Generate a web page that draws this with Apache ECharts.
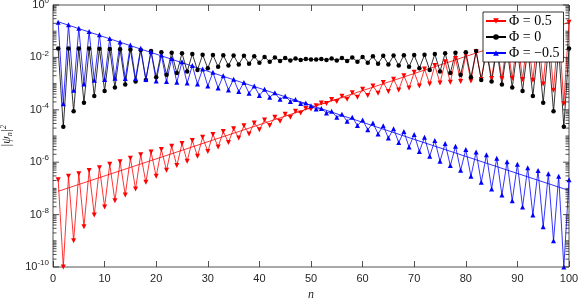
<!DOCTYPE html>
<html><head><meta charset="utf-8">
<script src="https://cdn.jsdelivr.net/npm/echarts@6/dist/echarts.min.js"></script>
<style>html,body{margin:0;padding:0;background:#fff}#c{width:581px;height:302px}</style>
</head><body><div id="c"></div>
<script>
// site index n
const sites = [1,2,3,4,5,6,7,8,9,10,11,12,13,14,15,16,17,18,19,20,21,22,23,24,25,26,27,28,29,30,31,32,33,34,35,36,37,38,39,40,41,42,43,44,45,46,47,48,49,50,51,52,53,54,55,56,57,58,59,60,61,62,63,64,65,66,67,68,69,70,71,72,73,74,75,76,77,78,79,80,81,82,83,84,85,86,87,88,89,90,91,92,93,94,95,96,97,98,99,100];
// log10 |psi_n|^2 values
const redLog = [-6.67,-10.0,-6.54,-9.0,-6.44,-8.46,-6.32,-8.02,-6.21,-7.71,
-6.08,-7.47,-5.98,-7.25,-5.85,-7.02,-5.72,-6.77,-5.61,-6.54,
-5.52,-6.31,-5.39,-6.13,-5.29,-5.96,-5.17,-5.77,-5.05,-5.59,
-4.94,-5.42,-4.83,-5.25,-4.72,-5.08,-4.61,-4.92,-4.50,-4.76,
-4.39,-4.60,-4.28,-4.44,-4.17,-4.28,-4.06,-4.12,-3.95,-3.97,
-3.85,-3.74,-3.76,-3.61,-3.68,-3.48,-3.60,-3.35,-3.52,-3.22,
-3.45,-3.09,-3.37,-2.96,-3.30,-2.83,-3.24,-2.70,-3.17,-2.57,
-3.09,-2.44,-3.02,-2.31,-2.98,-2.17,-2.95,-2.04,-2.92,-1.91,
-2.90,-1.78,-2.84,-1.65,-2.81,-1.53,-2.81,-1.41,-2.80,-1.28,
-2.84,-1.14,-2.87,-1.01,-3.02,-0.89,-3.25,-0.75,-3.77,-0.66];
const blackLog = [-1.66,-4.65,-1.66,-4.06,-1.66,-3.73,-1.66,-3.47,-1.67,-3.28,
-1.68,-3.15,-1.69,-3.03,-1.70,-2.92,-1.72,-2.86,-1.76,-2.76,
-1.80,-2.66,-1.82,-2.60,-1.84,-2.54,-1.87,-2.48,-1.90,-2.41,
-1.91,-2.36,-1.92,-2.31,-1.93,-2.27,-1.94,-2.24,-1.96,-2.20,
-1.98,-2.17,-2.00,-2.14,-2.02,-2.12,-2.04,-2.10,-2.06,-2.08,
-2.08,-2.06,-2.10,-2.04,-2.12,-2.02,-2.14,-2.00,-2.17,-1.98,
-2.20,-1.96,-2.24,-1.94,-2.27,-1.93,-2.31,-1.92,-2.36,-1.91,
-2.41,-1.90,-2.48,-1.87,-2.54,-1.84,-2.60,-1.82,-2.66,-1.80,
-2.76,-1.76,-2.86,-1.72,-2.92,-1.70,-3.03,-1.69,-3.15,-1.68,
-3.28,-1.67,-3.47,-1.66,-3.73,-1.66,-4.06,-1.66,-4.65,-1.66];
const blueLog = [-0.66,-3.77,-0.75,-3.25,-0.89,-3.02,-1.01,-2.87,-1.14,-2.84,
-1.28,-2.80,-1.41,-2.81,-1.53,-2.81,-1.65,-2.84,-1.78,-2.90,
-1.91,-2.92,-2.04,-2.95,-2.17,-2.98,-2.31,-3.02,-2.44,-3.09,
-2.57,-3.17,-2.70,-3.24,-2.83,-3.30,-2.96,-3.37,-3.09,-3.45,
-3.22,-3.52,-3.35,-3.60,-3.48,-3.68,-3.61,-3.76,-3.74,-3.85,
-3.97,-3.95,-4.12,-4.06,-4.28,-4.17,-4.44,-4.28,-4.60,-4.39,
-4.76,-4.50,-4.92,-4.61,-5.08,-4.72,-5.25,-4.83,-5.42,-4.94,
-5.59,-5.05,-5.77,-5.17,-5.96,-5.29,-6.13,-5.39,-6.31,-5.52,
-6.54,-5.61,-6.77,-5.72,-7.02,-5.85,-7.25,-5.98,-7.47,-6.08,
-7.71,-6.21,-8.02,-6.32,-8.46,-6.44,-9.00,-6.54,-10.0,-6.67];
// exponential envelope fits: [n, log10 value]
const redFitLog = [[1,-7.11],[100,-0.66]];
const blueFitLog = [[1,-0.64],[100,-7.08]];
const legendNames = ['Φ = 0.5','Φ = 0','Φ = −0.5'];
const xTicks = [0,10,20,30,40,50,60,70,80,90,100];
const yLabelExps = [0,-2,-4,-6,-8,-10];

const toPts = arr => arr.map((v,i)=>[sites[i], Math.pow(10,v)]);
const fitPts = arr => arr.map(p=>[p[0], Math.pow(10,p[1])]);

// y tick positions (log axis decorations)
const yTickVals = [];
for (let k=-10;k<=0;k++){ for(let m=1;m<=9;m++){ const v=m*Math.pow(10,k); if(k===0&&m>1)break; yTickVals.push([0,v,(m===1&&k%2===0)?1:0]); } }

const axisCol = '#262626';
const chart = echarts.init(document.getElementById('c'));
chart.setOption({
  animation:false,
  backgroundColor:'#fff',
  grid:{left:53,right:12,top:5,bottom:35,containLabel:false,outerBoundsMode:'none',show:true,borderColor:axisCol,borderWidth:0.8,backgroundColor:'transparent'},
  legend:{
    data:legendNames, orient:'vertical', left:483, top:12,
    itemWidth:20, itemHeight:7, itemGap:2,
    padding:[2,4,2,2],
    backgroundColor:'#fff', borderColor:'#000', borderWidth:0.8,
    textStyle:{fontFamily:'Liberation Serif',fontSize:14,color:'#000',padding:[0,0,0,-2]}
  },
  xAxis:[{
    type:'value', min:0, max:100, interval:10,
    name:'n', nameLocation:'middle', nameGap:22,
    nameTextStyle:{fontFamily:'Liberation Serif',fontStyle:'italic',fontSize:12,color:axisCol},
    axisLine:{show:false}, splitLine:{show:false},
    axisTick:{show:true,inside:true,length:6,lineStyle:{color:axisCol,width:0.8}},
    axisLabel:{fontFamily:'Liberation Sans',fontSize:11,color:axisCol,margin:6}
  },{
    type:'value', min:0, max:100, interval:10, position:'top',
    axisLine:{show:false}, splitLine:{show:false},
    axisTick:{show:true,inside:true,length:6,lineStyle:{color:axisCol,width:0.8}},
    axisLabel:{show:false}
  }],
  yAxis:[{
    type:'log', logBase:10, min:1e-10, max:1, interval:1,
    name:'|ψ{s|n}|{p|2}', nameLocation:'middle', nameGap:36,
    nameTextStyle:{fontFamily:'Liberation Serif',fontStyle:'italic',fontSize:12,color:axisCol,
      rich:{s:{fontFamily:'Liberation Serif',fontStyle:'italic',fontSize:8,color:axisCol,padding:[6,0,0,0]},
            p:{fontFamily:'Liberation Serif',fontSize:8,color:axisCol,padding:[0,0,7,0]}}},
    axisLine:{show:false}, splitLine:{show:false}, axisTick:{show:false},
    axisLabel:{margin:4,color:axisCol,
      formatter:function(v){const e=Math.round(Math.log10(v)); if(e%2!==0) return ''; return '{b|10}{s|'+e+'}';},
      rich:{b:{fontFamily:'Liberation Sans',fontSize:11,color:axisCol},
            s:{fontFamily:'Liberation Sans',fontSize:8,color:axisCol,padding:[0,0,8,0]}}}
  }],
  series:[
    {name:legendNames[0],type:'line',data:toPts(redLog),color:'#ff0000',symbol:'triangle',symbolRotate:180,symbolSize:5,
     lineStyle:{width:0.8},z:3},
    {name:legendNames[1],type:'line',data:toPts(blackLog),color:'#000000',symbol:'circle',symbolSize:4.5,
     lineStyle:{width:0.8},z:3},
    {name:legendNames[2],type:'line',data:toPts(blueLog),color:'#0000ff',symbol:'triangle',symbolSize:5,
     lineStyle:{width:0.8},z:3},
    {name:'redFit',type:'line',data:fitPts(redFitLog),color:'#ff0000',showSymbol:false,symbol:'none',lineStyle:{width:0.8},z:2},
    {name:'blueFit',type:'line',data:fitPts(blueFitLog),color:'#0000ff',showSymbol:false,symbol:'none',lineStyle:{width:0.8},z:2},
    {name:'yticks',type:'custom',data:yTickVals,encode:{x:0,y:1},silent:true,clip:false,z:5,
     renderItem:function(params,api){
       const v=api.value(1); const major=api.value(2)===1; const len=major?6:3.5;
       const L=api.coord([0,v]); const R=api.coord([100,v]);
       return {type:'group',children:[
         {type:'line',shape:{x1:L[0],y1:L[1],x2:L[0]+len,y2:L[1]},style:{stroke:axisCol,lineWidth:0.8}},
         {type:'line',shape:{x1:R[0],y1:R[1],x2:R[0]-len,y2:R[1]},style:{stroke:axisCol,lineWidth:0.8}}
       ]};
     }}
  ]
});
</script></body></html>
